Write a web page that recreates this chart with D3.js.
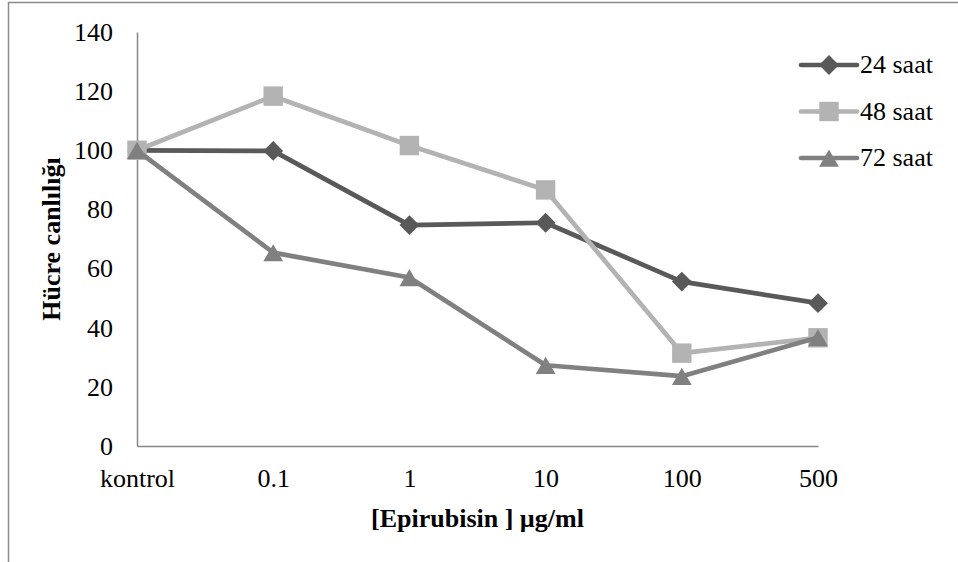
<!DOCTYPE html>
<html>
<head>
<meta charset="utf-8">
<script src="https://cdn.jsdelivr.net/npm/d3@7"></script>
<style>
  body { margin: 0; background: #fff; }
  svg { display: block; }
  text { font-family: "Liberation Serif", "Times New Roman", serif; fill: #000; }
</style>
</head>
<body>
<svg class="chart"></svg>
<script>
var width = 958,
    height = 562,
    margin = {
        top: 32,
        right: 140,
        bottom: 116,
        left: 137
    }

// data
var categories = ["kontrol", "0.1", "1", "10", "100", "500"]
var seriesNames = ["24 saat", "48 saat", "72 saat"]
var saat24 = [100, 99.8, 74.7, 75.5, 55.6, 48.3]
var saat48 = [100, 118.3, 101.6, 86.6, 31.4, 36.6]
var saat72 = [100, 65.4, 57.0, 27.3, 23.6, 36.7]
var yTicks = [0, 20, 40, 60, 80, 100, 120, 140]

var colors = ["#595959", "#b3b3b3", "#808080"]
var symbols = [d3.symbolDiamond2, d3.symbolSquare2, d3.symbolTriangle2]
var symbolSizes = [250, 480, 280]
var symbolShift = [0, 0, 3] // triangle: centre the box, not the centroid
var fontSize = 26

var series = [saat24, saat48, saat72].map((values, i) => ({
    name: seriesNames[i],
    values: values,
    color: colors[i],
    symbol: d3.symbol(symbols[i], symbolSizes[i]),
    shift: symbolShift[i]
}))

var chart = d3.select(".chart")
    .attr("width", width)
    .attr("height", height)

// outer frame (runs past the right and bottom edge)
chart.append("rect")
    .attr("x", 8.5)
    .attr("y", 2.5)
    .attr("width", 1000)
    .attr("height", 600)
    .attr("fill", "none")
    .attr("stroke", "#8c8c8c")
    .attr("stroke-width", 1.5)

var xScale = d3.scalePoint()
    .domain(categories)
    .range([margin.left, 818])

var yScale = d3.scaleLinear()
    .domain([0, 140])
    .range([height - margin.bottom, margin.top])

var xAxisCall = d3.axisBottom(xScale).tickSize(0).tickPadding(23)
var yAxisCall = d3.axisLeft(yScale).tickValues(yTicks).tickSize(0).tickPadding(24)

chart.append("g")
    .attr("class", "x axis")
    .attr("transform", `translate(0,${height - margin.bottom})`)
    .call(xAxisCall)

chart.append("g")
    .attr("class", "y axis")
    .attr("transform", `translate(${margin.left},0)`)
    .call(yAxisCall)

chart.selectAll(".axis")
    .attr("font-family", null)
    .attr("font-size", fontSize)
chart.selectAll(".axis .domain")
    .attr("stroke", "#888")
    .attr("stroke-width", 1.5)
chart.selectAll(".axis text")
    .attr("fill", "#000")

// axis titles
chart.append("text")
    .attr("x", (margin.left + 818) / 2)
    .attr("y", 527)
    .attr("text-anchor", "middle")
    .attr("font-size", fontSize)
    .attr("font-weight", "bold")
    .text("[Epirubisin ] µg/ml")

chart.append("text")
    .attr("transform", "translate(60,239) rotate(-90)")
    .attr("text-anchor", "middle")
    .attr("font-size", fontSize)
    .attr("font-weight", "bold")
    .text("Hücre canlılığı")

// lines and markers
var line = d3.line()
    .x((d, i) => xScale(categories[i]))
    .y(d => yScale(d))

var groups = chart.append("g")
    .attr("class", "lines")
    .selectAll("g")
    .data(series)
    .join("g")

groups.append("path")
    .attr("fill", "none")
    .attr("stroke", d => d.color)
    .attr("stroke-width", 4.7)
    .attr("stroke-linejoin", "round")
    .attr("d", d => line(d.values))

groups.selectAll("path.marker")
    .data(d => d.values.map((v, i) => ({ v: v, i: i, s: d })))
    .join("path")
    .attr("class", "marker")
    .attr("transform", d => `translate(${xScale(categories[d.i])},${yScale(d.v) + d.s.shift})`)
    .attr("d", d => d.s.symbol())
    .attr("fill", d => d.s.color)

// legend
var legend = chart.append("g")
    .attr("class", "legend")
    .selectAll("g")
    .data(series)
    .join("g")
    .attr("transform", (d, i) => `translate(801,${65 + i * 46.5})`)

legend.append("line")
    .attr("x1", 0)
    .attr("x2", 56)
    .attr("stroke", d => d.color)
    .attr("stroke-width", 4.7)
    .attr("stroke-linecap", "round")

legend.append("path")
    .attr("transform", d => `translate(28,${d.shift})`)
    .attr("d", d => d.symbol())
    .attr("fill", d => d.color)

legend.append("text")
    .attr("x", 59)
    .attr("dy", "0.32em")
    .attr("font-size", fontSize)
    .text(d => d.name)
</script>
</body>
</html>
